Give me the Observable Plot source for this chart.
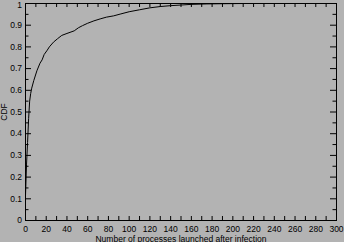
<!DOCTYPE html>
<html>
<head>
<meta charset="utf-8">
<script src="https://cdn.jsdelivr.net/npm/d3@7"></script>
<script src="https://cdn.jsdelivr.net/npm/@observablehq/plot@0.6"></script>
<style>
  html, body { margin: 0; padding: 0; background: #b3b3b3; }
  #chart svg { display: block; }
</style>
</head>
<body>
<div id="chart"></div>
<script>
// Number of processes launched after infection (x) and cumulative fraction (CDF)
const processes = [0, 1, 2, 3, 4, 5, 6, 8, 11, 14, 16, 18, 21, 23, 27, 31, 35, 40, 47, 51, 55, 60, 66, 72, 78, 85, 92, 100, 110, 120, 130, 140, 150, 160, 175, 190, 210, 235, 262];
const cdf = [0.115, 0.26, 0.36, 0.47, 0.55, 0.585, 0.61, 0.645, 0.69, 0.725, 0.74, 0.765, 0.785, 0.80, 0.822, 0.838, 0.853, 0.862, 0.874, 0.888, 0.898, 0.909, 0.92, 0.929, 0.937, 0.943, 0.952, 0.962, 0.971, 0.98, 0.986, 0.99, 0.993, 0.996, 0.998, 0.999, 1, 1, 1];

const xLabelTicks = [0, 20, 40, 60, 80, 100, 120, 140, 160, 180, 200, 220, 240, 260, 280, 300];
const xMinorTicks = [0, 10, 20, 30, 40, 50, 60, 70, 80, 90, 100, 110, 120, 130, 140, 150, 160, 170, 180, 190, 200, 210, 220, 230, 240, 250, 260, 270, 280, 290, 300];
const yMajorTicks = [0, 0.1, 0.2, 0.3, 0.4, 0.5, 0.6, 0.7, 0.8, 0.9, 1];
const yMinorTicks = [0.05, 0.15, 0.25, 0.35, 0.45, 0.55, 0.65, 0.75, 0.85, 0.95];
const yTickLabels = ["0", "0.1", "0.2", "0.3", "0.4", "0.5", "0.6", "0.7", "0.8", "0.9", "1"];
const xTitle = "Number of processes launched after infection";
const yTitle = "CDF";

const W = 344, H = 242;
const mL = 25, mR = 8, mT = 3, mB = 22;
const plotW = W - mL - mR, plotH = H - mT - mB;

const data = processes.map((p, i) => ({x: p, y: cdf[i]}));
const yLabelOf = new Map(yMajorTicks.map((t, i) => [t, yTickLabels[i]]));
const yLower = yMajorTicks.slice(0, -1);
const yTop = yMajorTicks.slice(-1);

const chart = Plot.plot({
  width: W,
  height: H,
  marginLeft: mL,
  marginRight: mR,
  marginTop: mT,
  marginBottom: mB,
  style: {background: "#b3b3b3", fontFamily: "'Liberation Sans Narrow', 'Liberation Sans', Arial, sans-serif", fontSize: "8.5px", color: "black"},
  x: {domain: [0, 300], label: null},
  y: {domain: [0, 1], label: null},
  marks: [
    Plot.frame({stroke: "black", strokeWidth: 1}),
    // x ticks, inward, bottom and top
    Plot.tickX(xMinorTicks, {x: d => d, insetTop: plotH - 4, stroke: "black"}),
    Plot.tickX(xMinorTicks, {x: d => d, insetBottom: plotH - 4, stroke: "black"}),
    // y ticks, inward, left and right
    Plot.tickY(yMajorTicks, {y: d => d, insetRight: plotW - 6, stroke: "black"}),
    Plot.tickY(yMajorTicks, {y: d => d, insetLeft: plotW - 6, stroke: "black"}),
    Plot.tickY(yMinorTicks, {y: d => d, insetRight: plotW - 3.5, stroke: "black"}),
    Plot.tickY(yMinorTicks, {y: d => d, insetLeft: plotW - 3.5, stroke: "black"}),
    Plot.axisX({ticks: xLabelTicks, tickSize: 0, tickPadding: 5, label: null, tickFormat: d => String(d)}),
    Plot.axisY({ticks: yLower, tickSize: 0, tickPadding: 3.5, label: null, tickFormat: d => yLabelOf.get(d)}),
    Plot.axisY({ticks: yTop, tickSize: 0, tickPadding: 3.5, label: null, dy: 1.5, tickFormat: d => yLabelOf.get(d)}),
    Plot.text([xTitle], {text: d => d, frameAnchor: "bottom", dy: 21, lineAnchor: "bottom", fill: "black"}),
    Plot.text([yTitle], {text: d => d, frameAnchor: "left", dx: -21, rotate: -90, textAnchor: "middle", lineAnchor: "middle", fill: "black"}),
    Plot.line(data, {x: "x", y: "y", stroke: "black", strokeWidth: 1})
  ]
});
document.getElementById("chart").appendChild(chart);
</script>
</body>
</html>
